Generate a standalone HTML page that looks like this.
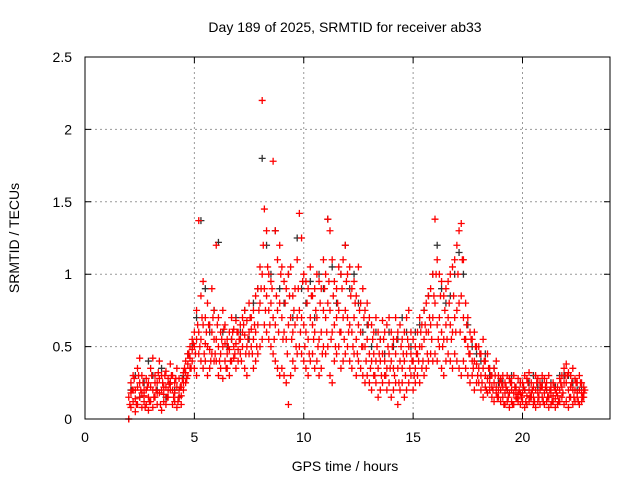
<!DOCTYPE html>
<html><head><meta charset="utf-8"><style>
html,body{margin:0;padding:0;background:#fff;}
svg text{font-family:"Liberation Sans",sans-serif;font-size:14px;fill:#000;}
</style></head><body>
<svg id="chart" width="640" height="480" xmlns="http://www.w3.org/2000/svg">
<rect x="0" y="0" width="640" height="480" fill="#fff"/>
<text x="345" y="32" text-anchor="middle">Day 189 of 2025, SRMTID for receiver ab33</text>
<g id="grid"></g>
<g id="axes"></g>
<g id="marks"></g>
<rect x="85" y="57" width="525" height="362" fill="none" stroke="#000" stroke-width="1"/>
<text x="345" y="471" text-anchor="middle">GPS time / hours</text>
<text transform="translate(19,238) rotate(-90)" text-anchor="middle">SRMTID / TECUs</text>
</svg>
<script>
const xTicks=[0,5,10,15,20];
const yTicks=[0,0.5,1,1.5,2,2.5];
const yTickLabels=["0","0.5","1","1.5","2","2.5"];
const redStart=2.0, redStep=0.1, redDStart=2.05;
const redA=[0.0,0.25,0.3,0.2,0.35,0.42,0.3,0.2,0.28,0.25,
0.35,0.42,0.3,0.25,0.4,0.3,0.22,0.33,0.28,0.38,
0.3,0.25,0.35,0.28,0.22,0.32,0.4,0.45,0.5,0.55,
0.6,0.75,1.37,0.85,0.95,0.7,0.8,0.65,0.9,0.75,
1.2,0.7,0.6,0.75,0.65,0.55,0.6,0.7,0.62,0.68,
0.6,0.65,0.7,0.75,0.68,0.8,0.7,0.75,0.85,0.9,
1.05,2.2,1.45,1.3,1.0,0.95,1.78,1.3,1.1,1.2,
1.05,0.95,0.9,1.0,1.05,0.85,0.9,1.1,1.42,1.25,
1.0,0.95,0.9,1.05,0.85,0.9,1.0,0.95,0.9,1.1,
1.0,1.38,1.3,1.1,0.95,0.9,1.05,1.0,1.1,1.2,
1.0,1.05,0.9,0.95,0.85,1.05,0.8,0.9,0.75,0.8,
0.7,0.65,0.6,0.7,0.6,0.55,0.68,0.6,0.65,0.7,
0.6,0.55,0.7,0.6,0.65,0.55,0.6,0.7,0.75,0.6,
0.55,0.5,0.6,0.7,0.65,0.75,0.8,0.85,0.9,1.0,
1.38,1.1,1.0,0.95,0.85,0.9,0.95,1.0,1.05,1.1,
1.2,1.3,1.35,1.1,0.8,0.7,0.6,0.55,0.6,0.5,
0.5,0.45,0.55,0.4,0.45,0.35,0.3,0.35,0.4,0.3,
0.28,0.3,0.25,0.3,0.28,0.25,0.3,0.22,0.28,0.25,
0.25,0.3,0.28,0.32,0.25,0.22,0.3,0.28,0.25,0.3,
0.28,0.25,0.3,0.22,0.25,0.2,0.22,0.28,0.3,0.35,
0.38,0.32,0.3,0.35,0.28,0.25,0.3,0.25,0.22];
const redB=[0.0,0.08,0.12,0.05,0.1,0.15,0.08,0.12,0.1,0.06,
0.12,0.08,0.15,0.1,0.18,0.06,0.12,0.1,0.15,0.2,
0.1,0.12,0.08,0.15,0.1,0.2,0.25,0.3,0.35,0.4,
0.35,0.3,0.45,0.4,0.35,0.4,0.3,0.35,0.45,0.4,
0.4,0.3,0.35,0.28,0.4,0.35,0.3,0.4,0.42,0.35,
0.4,0.45,0.5,0.35,0.3,0.45,0.5,0.35,0.4,0.45,
0.5,0.55,0.65,0.6,0.55,0.5,0.45,0.4,0.35,0.3,
0.35,0.3,0.25,0.1,0.3,0.4,0.35,0.45,0.5,0.45,
0.4,0.35,0.3,0.4,0.45,0.35,0.4,0.3,0.35,0.5,
0.45,0.5,0.3,0.25,0.4,0.45,0.5,0.35,0.4,0.45,
0.5,0.4,0.35,0.45,0.3,0.4,0.35,0.3,0.25,0.3,
0.25,0.2,0.3,0.25,0.15,0.2,0.25,0.3,0.2,0.25,
0.15,0.2,0.25,0.1,0.2,0.25,0.15,0.2,0.25,0.3,
0.2,0.25,0.3,0.25,0.35,0.3,0.35,0.4,0.45,0.4,
0.45,0.4,0.5,0.35,0.3,0.4,0.45,0.4,0.35,0.45,
0.4,0.35,0.3,0.4,0.35,0.3,0.25,0.3,0.2,0.25,
0.25,0.2,0.15,0.22,0.18,0.2,0.15,0.12,0.18,0.15,
0.12,0.15,0.1,0.12,0.08,0.12,0.1,0.15,0.12,0.1,
0.12,0.08,0.1,0.12,0.15,0.1,0.08,0.12,0.1,0.15,
0.1,0.12,0.08,0.1,0.12,0.08,0.1,0.12,0.15,0.1,
0.12,0.08,0.15,0.1,0.12,0.15,0.1,0.12,0.15];
const redC=[0.15,0.18,0.2,0.14,0.22,0.25,0.18,0.16,0.2,0.15,
0.22,0.2,0.25,0.18,0.28,0.2,0.17,0.22,0.2,0.25,
0.2,0.18,0.22,0.2,0.16,0.25,0.32,0.38,0.42,0.48,
0.5,0.55,0.6,0.55,0.65,0.52,0.5,0.48,0.6,0.55,
0.55,0.5,0.45,0.5,0.52,0.45,0.48,0.55,0.5,0.52,
0.48,0.55,0.6,0.58,0.5,0.6,0.62,0.55,0.6,0.65,
0.8,1.0,0.9,0.85,0.75,0.8,0.7,0.65,0.75,0.8,
0.7,0.6,0.55,0.65,0.7,0.6,0.65,0.7,0.75,0.7,
0.65,0.6,0.55,0.7,0.65,0.6,0.7,0.55,0.6,0.75,
0.7,0.8,0.75,0.6,0.65,0.7,0.75,0.6,0.7,0.75,
0.7,0.65,0.6,0.7,0.55,0.65,0.6,0.5,0.5,0.55,
0.45,0.4,0.45,0.4,0.35,0.4,0.45,0.4,0.35,0.45,
0.4,0.35,0.45,0.35,0.4,0.35,0.4,0.45,0.5,0.45,
0.4,0.35,0.45,0.5,0.5,0.55,0.6,0.6,0.65,0.7,
0.8,0.65,0.7,0.6,0.55,0.65,0.7,0.65,0.6,0.7,
0.75,0.8,0.85,0.7,0.55,0.5,0.45,0.4,0.4,0.38,
0.35,0.3,0.35,0.3,0.28,0.25,0.22,0.25,0.22,0.2,
0.2,0.22,0.18,0.2,0.18,0.2,0.18,0.2,0.17,0.18,
0.18,0.2,0.16,0.2,0.18,0.15,0.2,0.18,0.2,0.22,
0.18,0.2,0.15,0.18,0.16,0.14,0.16,0.2,0.22,0.25,
0.25,0.2,0.22,0.2,0.2,0.18,0.2,0.18,0.18];
const redD=[0.1,0.2,0.28,0.1,0.3,0.2,0.25,0.08,0.22,0.12,
0.3,0.15,0.2,0.32,0.1,0.25,0.3,0.15,0.24,0.3,
0.15,0.28,0.12,0.22,0.28,0.35,0.28,0.45,0.35,0.52,
0.45,0.65,0.5,0.7,0.45,0.6,0.65,0.4,0.7,0.45,
0.65,0.4,0.55,0.62,0.35,0.5,0.4,0.6,0.45,0.6,
0.55,0.4,0.65,0.45,0.55,0.7,0.45,0.65,0.5,0.75,
0.9,1.2,0.75,1.05,0.65,0.9,0.55,0.85,0.6,1.0,
0.55,0.8,0.45,0.85,0.55,0.75,0.5,0.9,0.6,0.95,
0.5,0.8,0.45,0.85,0.55,0.75,0.5,0.8,0.45,0.9,
0.6,0.95,0.55,0.85,0.5,0.8,0.6,0.9,0.55,0.95,
0.6,0.85,0.5,0.8,0.45,0.75,0.5,0.7,0.4,0.65,
0.35,0.55,0.3,0.5,0.45,0.3,0.55,0.3,0.5,0.35,
0.5,0.3,0.55,0.25,0.5,0.45,0.3,0.55,0.35,0.4,
0.3,0.45,0.4,0.6,0.4,0.65,0.45,0.7,0.55,0.85,
1.0,0.55,0.85,0.5,0.75,0.55,0.8,0.55,0.85,0.6,
1.0,0.6,1.1,0.55,0.65,0.45,0.55,0.35,0.5,0.3,
0.45,0.25,0.4,0.2,0.35,0.3,0.2,0.3,0.15,0.25,
0.25,0.1,0.22,0.15,0.25,0.1,0.22,0.14,0.2,0.15,
0.22,0.12,0.25,0.15,0.2,0.12,0.25,0.15,0.22,0.12,
0.22,0.15,0.2,0.12,0.22,0.18,0.12,0.25,0.18,0.3,
0.3,0.15,0.25,0.15,0.25,0.12,0.25,0.15,0.2];
const blackStart=2.1, blackStep=0.2;
const black=[0.2,0.3,0.15,0.25,0.4, 0.3,0.2,0.35,0.15,0.25, 0.2,0.15,0.3,0.45,0.5,
0.7,1.37,0.9,0.6,0.75, 1.22,0.6,0.5,0.55,0.7, 0.6,0.75,0.55,0.8,0.9,
1.8,1.2,1.0,1.3,0.9, 0.8,1.0,0.7,1.25,0.9, 0.8,0.95,0.7,1.0,0.9,
1.38,1.05,0.8,1.0,1.2, 0.9,1.0,0.8,0.6,0.65, 0.5,0.6,0.55,0.45,0.6,
0.5,0.55,0.7,0.6,0.5, 0.6,0.65,0.75,0.85,1.0, 1.2,0.9,0.8,0.85,1.0,
1.15,1.0,0.65,0.5,0.45, 0.4,0.45,0.3,0.35,0.25, 0.25,0.2,0.3,0.22,0.25,
0.2,0.25,0.3,0.22,0.25, 0.2,0.25,0.22,0.3,0.3, 0.3,0.25,0.2,0.22];

const X0=85,X1=610,Y0=419,Y1=57,XMAX=24,YMAX=2.5;
function xs(v){return X0+(X1-X0)*v/XMAX;}
function ys(v){return Y0-(Y0-Y1)*v/YMAX;}
const NS="http://www.w3.org/2000/svg";
const grid=document.getElementById('grid'),axes=document.getElementById('axes'),marks=document.getElementById('marks');
function mk(tag,attrs,parent){const e=document.createElementNS(NS,tag);for(const k in attrs)e.setAttribute(k,attrs[k]);parent.appendChild(e);return e;}
xTicks.forEach(function(t){
  const x=xs(t);
  if(t>0){const g=mk('line',{x1:x,x2:x,y1:Y1,y2:Y0,stroke:'#999','stroke-dasharray':'2,3'},grid);
  
  }
  const tk=mk('path',{d:'M'+x+' '+Y0+'v-6M'+x+' '+Y1+'v6',stroke:'#000'},axes);
  
  
  const lb=mk('text',{x:x,y:442,'text-anchor':'middle'},axes);lb.textContent=String(t);
  
  
});
yTicks.forEach(function(t,i){
  const y=ys(t);
  if(t>0&&t<YMAX){const g=mk('line',{x1:X0,x2:X1,y1:y,y2:y,stroke:'#999','stroke-dasharray':'2,3'},grid);
  
  }
  const tk=mk('path',{d:'M'+X0+' '+y+'h6M'+X1+' '+y+'h-6',stroke:'#000'},axes);
  
  
  const lb=mk('text',{x:72,y:y+5,'text-anchor':'end'},axes);lb.textContent=yTickLabels[i];
  
  
});
function plus(t,v,color,name){
  const x=xs(t),y=ys(v);
  const p=mk('path',{d:'M'+(x-3.5)+' '+y+'h7M'+x+' '+(y-3.5)+'v7',stroke:color,'stroke-width':1.3},marks);
  
  
}
black.forEach(function(v,i){plus(blackStart+i*blackStep,v,'#333','black-point');});
[redA,redB,redC].forEach(function(arr){
  arr.forEach(function(v,i){plus(redStart+i*redStep,v,'#f00','red-point');});
});
redD.forEach(function(v,i){plus(redDStart+i*redStep,v,'#f00','red-point');});
</script>
</body></html>
